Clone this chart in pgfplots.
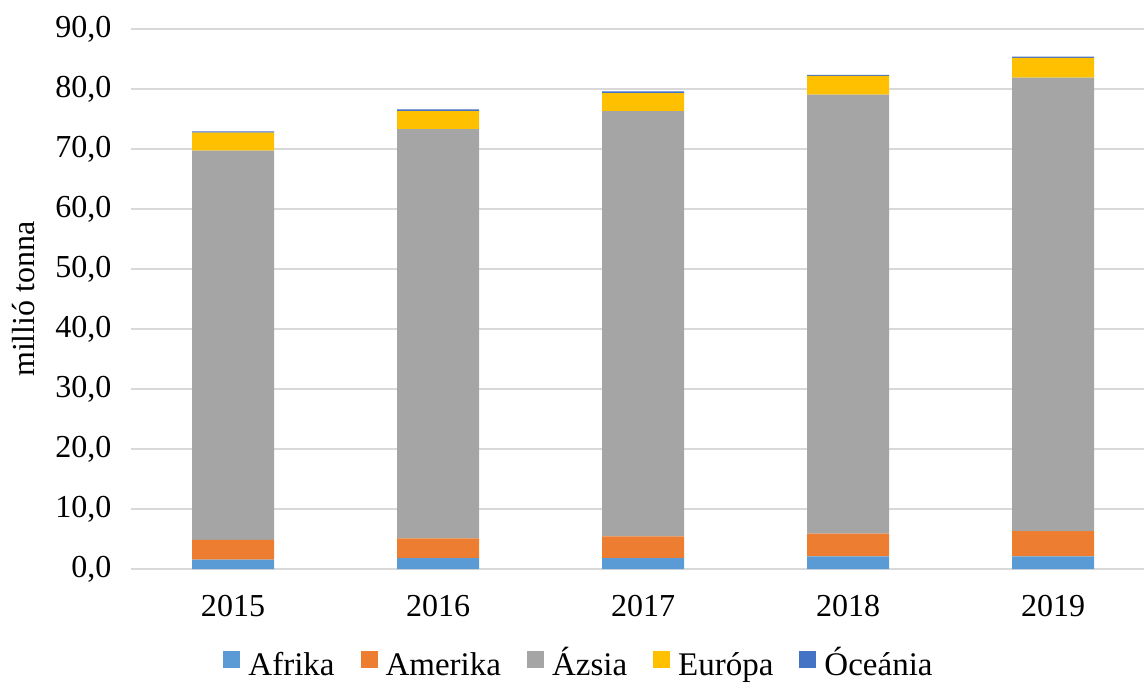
\documentclass[border=0pt]{standalone}
\usepackage{pgfplots}
\pgfplotsset{compat=1.18}
\usepackage{fontspec}
\setmainfont{Liberation Serif}
\definecolor{cAfr}{HTML}{5B9BD5}
\definecolor{cAme}{HTML}{ED7D31}
\definecolor{cAzs}{HTML}{A5A5A5}
\definecolor{cEur}{HTML}{FFC000}
\definecolor{cOce}{HTML}{4472C4}
\definecolor{cGrid}{HTML}{D9D9D9}
\begin{document}
\begin{tikzpicture}
\useasboundingbox (-65.25pt,-56.5pt) rectangle (506.75pt,284.5pt);
\begin{axis}[
  scale only axis,
  width=512.5pt, height=270pt,
  ybar stacked, bar width=41pt,
  xmin=-0.5, xmax=4.5,
  ymin=0, ymax=90,
  ytick={0,10,...,90},
  xtick=data,
  xticklabels={2015,2016,2017,2018,2019},
  axis line style={draw=none},
  major tick length=0pt,
  ymajorgrids, grid style={cGrid, line width=0.8pt},
  font=\fontsize{16pt}{19pt}\selectfont,
  /pgf/number format/.cd, assume math mode=true, fixed, fixed zerofill, precision=1, use comma,
  /pgfplots/.cd,
  yticklabel style={xshift=-6pt},
  xticklabel style={yshift=-9.5pt},
  ylabel={millió tonna},
  ylabel style={yshift=3.5pt},
  legend style={at={(0.4405,-0.182)}, anchor=center, draw=none, legend columns=5,
    font=\fontsize{16.5pt}{19pt}\selectfont,
    nodes={text height=12pt, text depth=3.5pt, inner xsep=4pt},
    /tikz/every even column/.append style={column sep=9pt}},
  legend image code/.code={\fill[#1] (0pt,-0.5pt) rectangle (8.5pt,8pt);},
]
\addplot[fill=cAfr, draw=none] coordinates {(0,1.55) (1,1.8) (2,1.8) (3,2.1) (4,2.1)};
\addplot[fill=cAme, draw=none] coordinates {(0,3.3) (1,3.3) (2,3.65) (3,3.8) (4,4.2)};
\addplot[fill=cAzs, draw=none] coordinates {(0,64.9) (1,68.2) (2,70.85) (3,73.15) (4,75.6)};
\addplot[fill=cEur, draw=none] coordinates {(0,3.0) (1,3.0) (2,3.0) (3,3.15) (4,3.3)};
\addplot[fill=cOce, draw=none] coordinates {(0,0.2) (1,0.3) (2,0.3) (3,0.15) (4,0.2)};
\legend{Afrika, Amerika, Ázsia, Európa, Óceánia}
\end{axis}
\end{tikzpicture}
\end{document}
